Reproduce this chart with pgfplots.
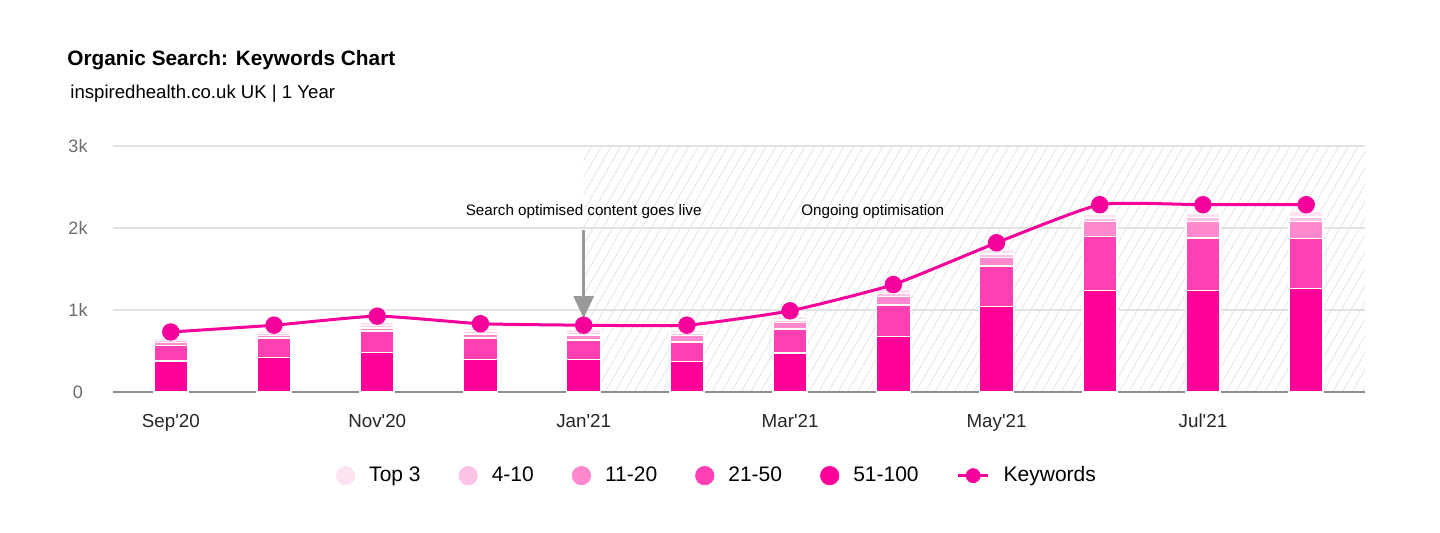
\documentclass[border=0pt]{standalone}
\usepackage{fontspec}
\setmainfont{Liberation Sans}
\usepackage{pgfplots}
\usepackage{pgfplotstable}
\pgfplotsset{compat=1.18}
\usetikzlibrary{arrows.meta,patterns.meta}

\definecolor{cA}{HTML}{FF0099}
\definecolor{cB}{HTML}{FF40B3}
\definecolor{cC}{HTML}{FF88CE}
\definecolor{cD}{HTML}{FDC3E7}
\definecolor{cE}{HTML}{FDE3F2}
\definecolor{cLine}{HTML}{F5009A}
\definecolor{gridc}{HTML}{E2E2E2}
\definecolor{tickc}{HTML}{6B6B6B}

\pgfplotstableread{
x a b c d e
0 378 188 36 28 29
1 419 240 29 24 28
2 480 264 36 33 41
3 395 264 50 35 35
4 395 239 58 35 38
5 374 236 80 30 35
6 472 296 81 29 49
7 675 386 102 40 49
8 1041 496 101 45 57
9 1236 658 183 43 50
10 1236 640 203 50 50
11 1260 610 207 60 62
}\bars

\pgfplotstableread{
x k
0 732
1 815
2 925
3 833
4 815
5 815
6 990
7 1310
8 1820
9 2284
10 2284
11 2284
}\kw

\pgfplotsset{base/.style={
  at={(0,0)}, anchor=south west,
  scale only axis, width=626bp, height=123bp,
  xmin=-0.56, xmax=11.57, ymin=0, ymax=3000}}

\begin{document}
\begin{tikzpicture}
\useasboundingbox (-56.5bp,-70.5bp) rectangle (663.5bp,196bp);
\node[anchor=base west, inner sep=0, font=\fontsize{10.4bp}{12bp}\selectfont\bfseries] at (-23bp,163bp) {Organic Search: Keywords Chart};
\node[anchor=base west, inner sep=0, font=\fontsize{9.3bp}{11bp}\selectfont] at (-21.5bp,146.5bp) {inspiredhealth.co.uk UK | 1 Year};

% hatched background region
\begin{axis}[base, hide axis]
\fill[pattern={Lines[angle=60, distance=4.2bp, line width=0.5bp]}, pattern color=black!9] (axis cs:4,0) rectangle (axis cs:11.57,3000);
\end{axis}

\begin{axis}[
  base,
  ybar stacked, bar width=17bp,
  axis line style={draw=none},
  major tick length=0pt,
  ymajorgrids, grid style={gridc, line width=0.6bp},
  ytick={0,1000,2000,3000}, yticklabels={0,1k,2k,3k},
  xtick={0,2,4,6,8,10},
  xticklabels={Sep\textquotesingle 20,Nov\textquotesingle 20,Jan\textquotesingle 21,Mar\textquotesingle 21,May\textquotesingle 21,Jul\textquotesingle 21},
  yticklabel style={anchor=center, xshift=-17.5bp, text=tickc, font=\fontsize{9bp}{11bp}\selectfont},
  xticklabel style={anchor=base, yshift=-17.5bp, text=black!85, font=\fontsize{9.4bp}{11bp}\selectfont},
  clip=false,
]
\addplot[fill=cA, draw=white, line width=0.8bp] table[x=x,y=a]{\bars};
\addplot[fill=cB, draw=white, line width=0.8bp] table[x=x,y=b]{\bars};
\addplot[fill=cC, draw=white, line width=0.8bp] table[x=x,y=c]{\bars};
\addplot[fill=cD, draw=white, line width=0.8bp] table[x=x,y=d]{\bars};
\addplot[fill=cE, draw=white, line width=0.8bp] table[x=x,y=e]{\bars};
\draw[black!45, line width=1bp] (axis cs:-0.56,0) -- (axis cs:11.57,0);
\draw[black!40, line width=1.3bp, -{Triangle[width=10bp,length=11bp]}] (axis cs:4,1975) -- (axis cs:4,900);
\node[font=\fontsize{7.6bp}{9bp}\selectfont] at (axis cs:4,2195) {Search optimised content goes live};
\node[font=\fontsize{7.6bp}{9bp}\selectfont] at (axis cs:6.8,2195) {Ongoing optimisation};
\end{axis}

\begin{axis}[
  base,
  hide axis, clip=false,
  legend columns=6,
  legend style={at={(0.484,-0.34)}, anchor=center, draw=none, fill=none,
    font=\fontsize{10.5bp}{12bp}\selectfont,
    /tikz/every odd column/.append style={column sep=4bp},
    /tikz/every even column/.append style={column sep=16bp},
    nodes={inner sep=3bp}},
]
\addlegendimage{legend image code/.code={\fill[cE] (0,0) circle (4.6bp);}}
\addlegendentry{Top 3}
\addlegendimage{legend image code/.code={\fill[cD] (0,0) circle (4.6bp);}}
\addlegendentry{4-10}
\addlegendimage{legend image code/.code={\fill[cC] (0,0) circle (4.6bp);}}
\addlegendentry{11-20}
\addlegendimage{legend image code/.code={\fill[cB] (0,0) circle (4.6bp);}}
\addlegendentry{21-50}
\addlegendimage{legend image code/.code={\fill[cA] (0,0) circle (4.6bp);}}
\addlegendentry{51-100}
\addlegendimage{legend image code/.code={\draw[cLine, line width=1.5bp] (-7.5bp,0) -- (7.5bp,0); \fill[cLine] (0,0) circle (3.5bp);}}
\addlegendentry{Keywords}
\addplot[cLine, line width=1.5bp, smooth, tension=0.3, mark=*, mark size=3.6bp, mark options={fill=cLine, draw=cLine}, forget plot] table[x=x,y=k]{\kw};
\end{axis}
\end{tikzpicture}
\end{document}
